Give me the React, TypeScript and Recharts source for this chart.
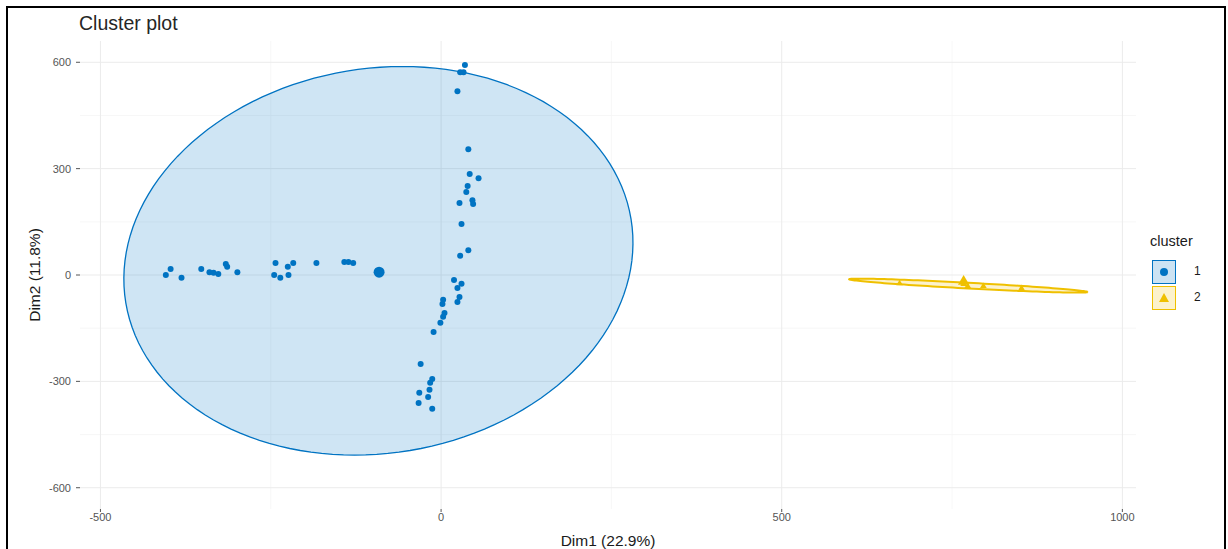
import { ScatterChart, Scatter, XAxis, YAxis, CartesianGrid } from 'recharts'

const BLUE = '#0073C2'
const YELLOW = '#EFC000'

const xTicks = [-500, 0, 500, 1000]
const xMinor = [-250, 250, 750]
const yTicks = [-600, -300, 0, 300, 600]
const yMinor = [-450, -150, 150, 450]

// cluster 1: horizontal arm + vertical arm
const cluster1 = [
  [-404, 0], [-397, 17], [-381, -8], [-352, 17], [-340, 8], [-334, 6], [-327, 3],
  [-316, 31], [-314, 23], [-299, 8], [-243, 34], [-245, 0], [-236, -8], [-224, 0],
  [-225, 23], [-217, 34], [-183, 34], [-142, 37], [-136, 37], [-129, 34],
  [35, 592], [28, 572], [33, 572], [24, 518], [40, 355], [42, 285], [55, 273],
  [39, 251], [37, 234], [27, 203], [46, 211], [47, 200], [30, 144], [40, 70],
  [28, 54], [19, -14], [30, -25], [24, -37], [27, -62], [24, -76], [3, -70],
  [2, -82], [5, -107], [3, -118], [-1, -135], [-11, -161], [-30, -251],
  [-13, -293], [-16, -304], [-17, -324], [-19, -344], [-32, -332], [-33, -361],
  [-13, -377],
]
const center1 = [[-91, 8]]

const cluster2 = [[673, -23], [767, -25], [773, -31], [796, -31], [852, -37]]
const center2 = [[767, -17]]

// ellipse: cx, cy, ax, sx, by, sy (data units)
const ellipse1 = [-92, 40, 372, 35, 548, 0]
const ellipse2 = [774, -30, 175, 0, 8, -18]

const toPts = (a: number[][]) => a.map(([x, y]) => ({ x, y }))

const outline = ([cx, cy, ax, sx, by, sy]: number[]) =>
  Array.from({ length: 145 }, (_, i) => {
    const t = (i / 144) * 2 * Math.PI
    return {
      x: cx + ax * Math.cos(t) + sx * Math.sin(t),
      y: cy + by * Math.sin(t) + sy * Math.cos(t),
    }
  })

const dot = (r: number) => (p: any) => <circle cx={p.cx} cy={p.cy} r={r} fill={BLUE} />
const tri = (s: number) => (p: any) => (
  <path
    d={`M${p.cx},${p.cy - s} L${p.cx + s * 0.95},${p.cy + s * 0.6} L${p.cx - s * 0.95},${p.cy + s * 0.6} Z`}
    fill={YELLOW}
  />
)
const none = () => <g />

const font = '"Liberation Sans", Arial, sans-serif'

export default function App() {
  return (
    <div style={{ position: 'absolute', left: 0, top: 0, width: 1228, height: 549, background: '#fff', fontFamily: font, overflow: 'hidden' }}>
      <ScatterChart width={1228} height={549} margin={{ top: 41, right: 92, bottom: 0, left: 0 }}>
        <CartesianGrid
          horizontalValues={yMinor}
          verticalValues={xMinor}
          stroke="#f5f5f5"
          strokeWidth={0.8}
        />
        <CartesianGrid
          horizontalValues={yTicks}
          verticalValues={xTicks}
          stroke="#ebebeb"
          strokeWidth={1}
        />
        <XAxis
          type="number"
          dataKey="x"
          domain={[-530, 1020]}
          ticks={xTicks}
          allowDataOverflow
          axisLine={false}
          tickSize={3}
          tickMargin={1}
          tickLine={{ stroke: '#555' }}
          tick={{ fontSize: 11, fill: '#555', fontFamily: font }}
          height={40}
          label={{ value: 'Dim1 (22.9%)', position: 'insideBottom', offset: 3, fontSize: 15.5, fill: '#1a1a1a', fontFamily: font }}
        />
        <YAxis
          type="number"
          dataKey="y"
          domain={[-660, 660]}
          ticks={yTicks}
          allowDataOverflow
          axisLine={false}
          tickSize={4}
          tickMargin={5}
          tickLine={{ stroke: '#555' }}
          tick={{ fontSize: 11, fill: '#555', fontFamily: font }}
          width={80}
        />
        <Scatter
          data={outline(ellipse1)}
          line={{ stroke: BLUE, strokeWidth: 1.3, fill: 'rgba(0,115,194,0.19)' }}
          shape={none}
          isAnimationActive={false}
        />
        <Scatter
          data={outline(ellipse2)}
          line={{ stroke: YELLOW, strokeWidth: 2, fill: 'rgba(239,192,0,0.2)' }}
          shape={none}
          isAnimationActive={false}
        />
        <Scatter data={toPts(cluster1)} shape={dot(3)} isAnimationActive={false} />
        <Scatter data={toPts(center1)} shape={dot(5.5)} isAnimationActive={false} />
        <Scatter data={toPts(cluster2)} shape={tri(3.5)} isAnimationActive={false} />
        <Scatter data={toPts(center2)} shape={tri(6)} isAnimationActive={false} />
      </ScatterChart>

      <div style={{ position: 'absolute', left: 79, top: 12, fontSize: 19.5, color: '#262626' }}>Cluster plot</div>
      <div
        style={{
          position: 'absolute', left: 35, top: 275, fontSize: 15.5, color: '#1a1a1a', whiteSpace: 'nowrap',
          transform: 'translate(-50%, -50%) rotate(-90deg)',
        }}
      >
        Dim2 (11.8%)
      </div>

      <div style={{ position: 'absolute', left: 1150, top: 233, fontSize: 14.5, color: '#1a1a1a' }}>cluster</div>
      <div style={{ position: 'absolute', left: 1152, top: 260, width: 24, height: 24, boxSizing: 'border-box', border: `1.3px solid ${BLUE}`, background: 'rgba(0,115,194,0.2)' }}>
        <div style={{ position: 'absolute', left: 7, top: 7, width: 8, height: 8, borderRadius: 4, background: BLUE }} />
      </div>
      <div style={{ position: 'absolute', left: 1194, top: 264, fontSize: 12, color: '#1a1a1a' }}>1</div>
      <div style={{ position: 'absolute', left: 1152, top: 286, width: 24, height: 24, boxSizing: 'border-box', border: `1.3px solid ${YELLOW}`, background: 'rgba(239,192,0,0.2)' }}>
        <svg width={22} height={22} style={{ position: 'absolute', left: 0, top: 0 }}>
          <path d="M11,6 L16,15 L6,15 Z" fill={YELLOW} />
        </svg>
      </div>
      <div style={{ position: 'absolute', left: 1194, top: 290, fontSize: 12, color: '#1a1a1a' }}>2</div>

      <div style={{ position: 'absolute', left: 6, top: 6, width: 1220, height: 560, boxSizing: 'border-box', border: '2px solid #000', pointerEvents: 'none' }} />
    </div>
  )
}
